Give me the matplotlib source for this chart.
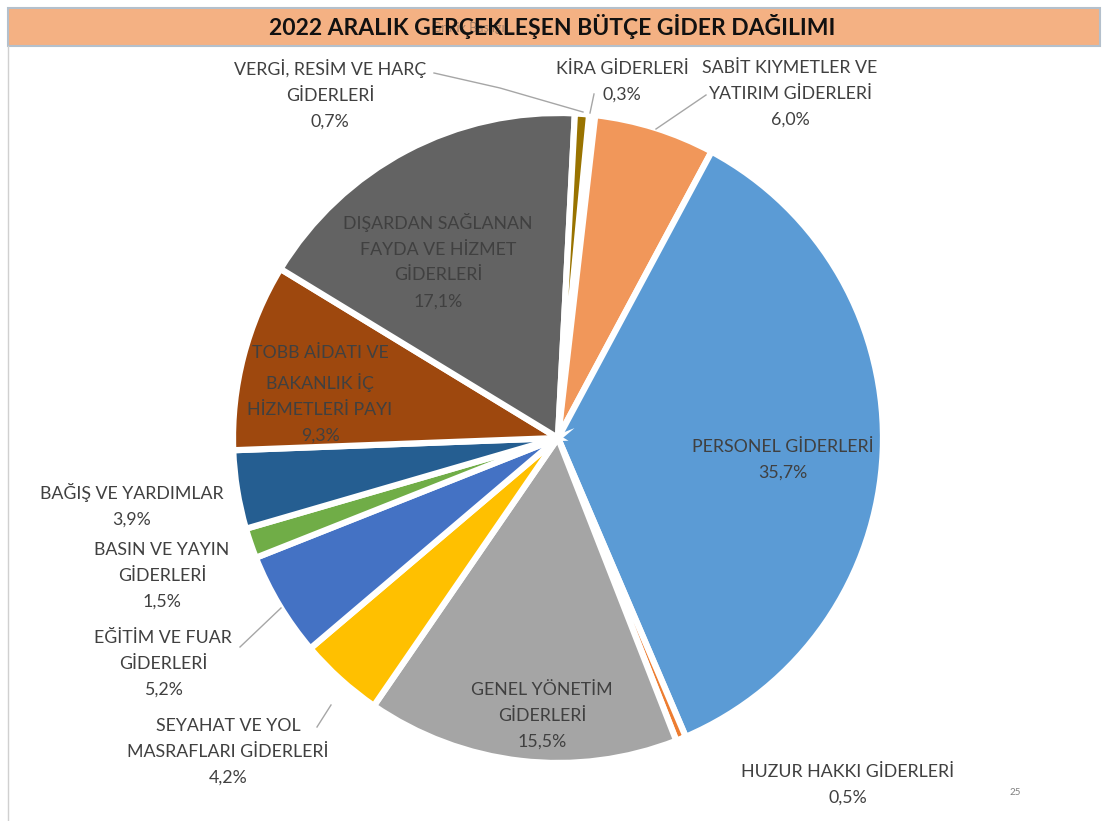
"""
2022 Aralık gerçekleşen bütçe gider dağılımı pasta grafiği.
"""

import matplotlib.pyplot as plt
from matplotlib.patches import Rectangle

# ==================== veri ====================
CATEGORIES = [
    "KİRA GİDERLERİ",
    "SABİT KIYMETLER VE\nYATIRIM GİDERLERİ",
    "PERSONEL GİDERLERİ",
    "HUZUR HAKKI GİDERLERİ",
    "GENEL YÖNETİM\nGİDERLERİ",
    "SEYAHAT VE YOL\nMASRAFLARI GİDERLERİ",
    "EĞİTİM VE FUAR\nGİDERLERİ",
    "BASIN VE YAYIN\nGİDERLERİ",
    "BAĞIŞ VE YARDIMLAR",
    "TOBB AİDATI VE\nBAKANLIK İÇ\nHİZMETLERİ PAYI",
    "DIŞARDAN SAĞLANAN\nFAYDA VE HİZMET\nGİDERLERİ",
    "VERGİ, RESİM VE HARÇ\nGİDERLERİ",
]
SHARES = [0.3, 6.0, 35.7, 0.5, 15.5, 4.2, 5.2, 1.5, 3.9, 9.3, 17.1, 0.7]
COLORS = [
    "#43682B", "#F1975A", "#5B9BD5", "#ED7D31", "#A5A5A5", "#FFC000",
    "#4472C4", "#70AD47", "#255E91", "#9E480E", "#636363", "#997300",
]
TITLE = "2022 ARALIK GERÇEKLEŞEN BÜTÇE GİDER DAĞILIMI"

# ==================== yerleşim (piksel) ====================
W, H = 1104, 821
CENTER_PX = (558, 438)
RADIUS_PX = 325
# etiket merkezleri (x, y) piksel, üstten
LABEL_POS = [
    (622, 82), (790, 94), (783, 460), (848, 785), (542, 716), (228, 752),
    (163, 664), (162, 576), (132, 505), (320, 394), (438, 261), (330, 94),
]
LEADERS = [
    [(594, 94), (590, 113)],
    [(706, 95), (656, 129)],
    [(434, 73), (500, 88), (583, 112)],
    [(317, 727), (331, 705)],
    [(240, 647), (281, 608)],
]
TEXT_COLOR = "#404040"
FONT = ["Lato", "DejaVu Sans"]


def fy(y_px):
    return H - y_px


def main():
    plt.rcParams["font.family"] = FONT
    fig = plt.figure(figsize=(W / 100, H / 100), dpi=100)
    ax = fig.add_axes([0, 0, 1, 1])

    # başlık çubuğu
    ax.add_patch(Rectangle((8, fy(46)), W - 12, 38, facecolor="#F4B183",
                           edgecolor="#B4C0CC", linewidth=1.5))
    ax.plot([8, 8], [fy(46), 0], color="#D0D0D0", linewidth=1)
    ax.text(468, fy(28), "Grafik Başlığı", ha="center", va="center",
            fontsize=9, color="#7F6A5A", alpha=0.7)
    ax.text(552, fy(26), TITLE, ha="center", va="center", fontsize=16.5,
            fontweight="bold", color="#111111")

    ax.pie(
        SHARES,
        colors=COLORS,
        startangle=84.5,
        counterclock=False,
        center=(CENTER_PX[0], fy(CENTER_PX[1])),
        radius=RADIUS_PX,
        wedgeprops=dict(edgecolor="white", linewidth=4.5),
        frame=True,
    )
    ax.set_xlim(0, W)
    ax.set_ylim(0, H)
    ax.set_aspect("equal")
    ax.axis("off")

    for name, share, (x, y) in zip(CATEGORIES, SHARES, LABEL_POS):
        pct = f"{share:.1f}".replace(".", ",") + "%"
        ax.text(x, fy(y), f"{name}\n{pct}", ha="center", va="center",
                fontsize=12.8, color=TEXT_COLOR, linespacing=1.75)

    for pts in LEADERS:
        xs = [p[0] for p in pts]
        ys = [fy(p[1]) for p in pts]
        ax.plot(xs, ys, color="#A6A6A6", linewidth=1)

    ax.text(1015, fy(792), "25", ha="center", va="center", fontsize=7,
            color="#808080")

    fig.savefig("out.png", dpi=100)


if __name__ == "__main__":
    main()
